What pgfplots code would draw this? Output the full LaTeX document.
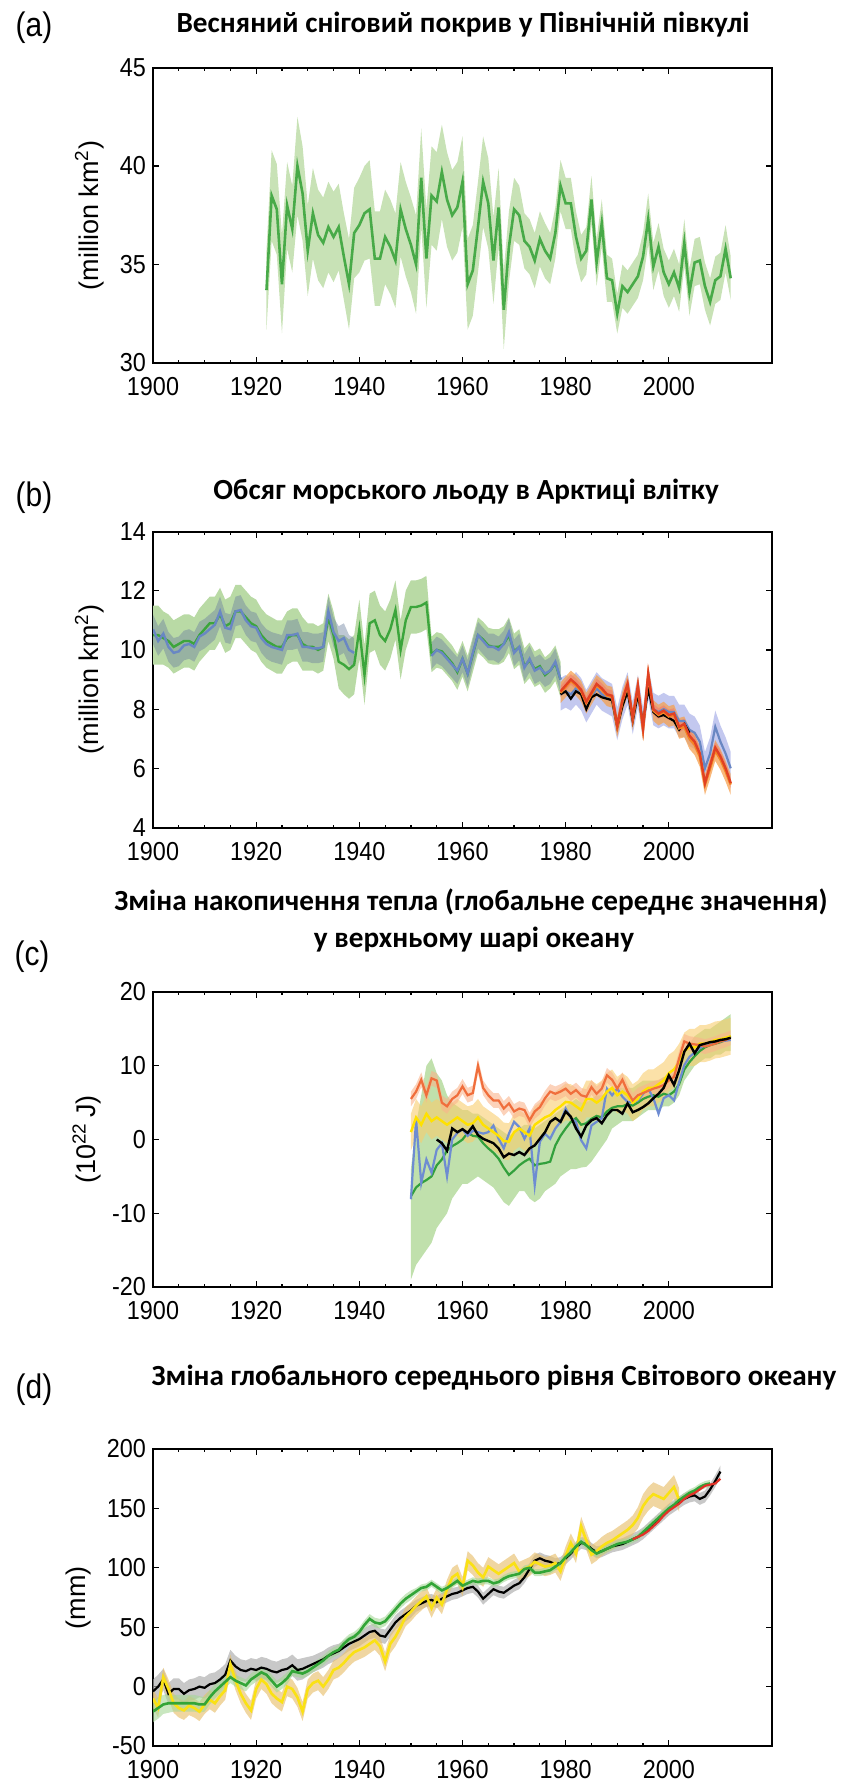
\documentclass[border=0pt]{standalone}
\usepackage{graphicx}
\usepackage{fontspec}
\setmainfont{Liberation Sans}
\newfontfamily\titlefont{Carlito}
\usepackage{pgfplots}
\pgfplotsset{compat=1.18}
\usepackage{pgfplotstable}
\usepgfplotslibrary{fillbetween}

\definecolor{aLine}{RGB}{72,170,72}
\definecolor{aBand}{RGB}{200,226,182}
\definecolor{bGreen}{RGB}{60,165,60}
\definecolor{bGreenBand}{RGB}{185,218,165}
\definecolor{bBlue}{RGB}{105,135,195}
\definecolor{bBlueBand}{RGB}{110,130,160}
\definecolor{bLav}{RGB}{180,186,235}
\definecolor{bOrBand}{RGB}{245,160,80}
\definecolor{bRedBand}{RGB}{240,130,110}
\definecolor{bRed}{RGB}{225,65,35}
\definecolor{bOrange}{RGB}{245,135,35}
\definecolor{cRed}{RGB}{240,110,60}
\definecolor{cYel}{RGB}{255,225,0}
\definecolor{cBlue}{RGB}{110,140,210}
\definecolor{cGreen}{RGB}{50,160,60}
\definecolor{cGreenBand}{RGB}{192,224,172}
\definecolor{cYelBand}{RGB}{248,205,110}
\definecolor{cRedBand}{RGB}{250,180,140}
\definecolor{dGrey}{RGB}{170,170,170}
\definecolor{dOrBand}{RGB}{232,192,110}
\definecolor{dGreenBand}{RGB}{165,215,150}
\definecolor{dYel}{RGB}{250,225,20}
\definecolor{dGreen}{RGB}{50,165,55}
\definecolor{dRed}{RGB}{225,50,40}

\pgfplotstableread{
yr y e
1922 33.7 2.0
1923 38.5 2.3
1924 37.8 2.3
1925 34.0 2.5
1926 38.0 2.2
1927 36.8 2.2
1928 40.0 2.5
1929 38.6 2.4
1930 35.7 2.3
1931 37.6 2.3
1932 36.5 2.3
1933 36.1 2.3
1934 36.9 2.3
1935 36.4 2.3
1936 36.9 2.2
1937 35.4 2.2
1938 34.0 2.3
1939 36.6 2.3
1940 37.0 2.4
1941 37.6 2.4
1942 37.8 2.5
1943 35.3 2.4
1944 35.3 2.4
1945 36.4 2.4
1946 35.9 2.4
1947 35.2 2.4
1948 37.8 2.4
1949 36.8 2.4
1950 36.0 2.4
1951 35.0 2.5
1952 39.4 2.5
1953 35.3 2.5
1954 38.5 2.5
1955 38.2 2.5
1956 39.7 2.4
1957 38.3 2.4
1958 37.5 2.3
1959 37.9 2.3
1960 39.2 2.3
1961 34.0 2.3
1962 34.7 2.3
1963 36.9 2.3
1964 39.2 2.3
1965 38.1 2.3
1966 35.2 2.2
1967 37.9 2.0
1968 32.7 2.0
1969 35.9 1.8
1970 37.8 1.6
1971 37.5 1.5
1972 36.2 1.4
1973 35.9 1.4
1974 35.2 1.4
1975 36.3 1.4
1976 35.7 1.4
1977 35.3 1.3
1978 36.6 1.3
1979 39.0 1.3
1980 38.1 1.3
1981 38.1 1.3
1982 36.4 1.3
1983 35.3 1.2
1984 35.7 1.2
1985 38.3 1.2
1986 35.1 1.2
1987 37.1 1.2
1988 34.3 1.2
1989 34.2 1.1
1990 32.5 1.0
1991 33.9 1.1
1992 33.6 1.1
1993 34.0 1.1
1994 34.4 1.1
1995 35.4 1.2
1996 37.3 1.3
1997 34.9 1.2
1998 35.9 1.2
1999 34.6 1.2
2000 34.0 1.2
2001 34.6 1.2
2002 33.8 1.2
2003 36.1 1.2
2004 33.6 1.2
2005 35.1 1.2
2006 35.2 1.2
2007 33.9 1.2
2008 33.1 1.2
2009 34.2 1.2
2010 34.4 1.2
2011 35.8 1.2
2012 34.3 1.1
}\tA

\pgfplotstableread{
yr y e
1900 10.5 1.0
1901 10.5 1.0
1902 10.4 0.9
1903 10.3 0.9
1904 10.1 0.9
1905 10.2 0.9
1906 10.3 0.9
1907 10.3 0.9
1908 10.2 0.9
1909 10.5 0.9
1910 10.7 0.9
1911 10.9 0.9
1912 10.9 0.9
1913 11.2 0.9
1914 10.8 0.9
1915 10.9 0.9
1916 11.3 0.9
1917 11.3 0.9
1918 11.1 0.9
1919 10.9 0.9
1920 10.8 0.9
1921 10.5 0.9
1922 10.3 0.9
1923 10.2 0.9
1924 10.1 0.9
1925 10.1 0.9
1926 10.4 0.9
1927 10.5 0.9
1928 10.5 0.9
1929 10.2 0.9
1930 10.1 0.8
1931 10.1 0.8
1932 10.0 0.8
1933 10.1 0.8
1934 11.1 0.8
1935 10.5 0.8
1936 9.6 0.9
1937 9.5 1.0
1938 9.35 1.0
1939 9.5 1.0
1940 10.7 1.0
1941 9.15 1.0
1942 10.9 1.0
1943 11.0 1.0
1944 10.5 1.0
1945 10.3 1.0
1946 10.7 1.0
1947 11.35 1.0
1948 10.0 1.0
1949 11.0 1.0
1950 11.45 0.9
1951 11.45 0.9
1952 11.5 0.9
1953 11.6 0.9
1954 9.85 0.6
1955 10.0 0.6
1956 9.95 0.6
1957 9.75 0.6
1958 9.55 0.6
1959 9.25 0.6
1960 9.7 0.6
1961 9.2 0.6
1962 9.85 0.6
1963 10.5 0.6
1964 10.35 0.6
1965 10.15 0.6
1966 10.1 0.6
1967 10.1 0.6
1968 10.2 0.6
1969 10.5 0.6
1970 9.95 0.6
1971 10.1 0.6
1972 9.45 0.6
1973 9.65 0.6
1974 9.35 0.6
1975 9.45 0.6
1976 9.15 0.6
1977 9.3 0.6
1978 9.55 0.6
1979 9.0 0.6
}\tBg

\pgfplotstableread{
yr y e
1900 10.7 0.5
1901 10.3 0.5
1902 10.55 0.5
1903 10.1 0.5
1904 9.9 0.5
1905 9.95 0.5
1906 10.15 0.5
1907 10.2 0.5
1908 10.1 0.5
1909 10.45 0.5
1910 10.55 0.5
1911 10.7 0.5
1912 10.85 0.5
1913 11.3 0.5
1914 10.75 0.5
1915 10.7 0.5
1916 11.3 0.5
1917 11.35 0.5
1918 11.0 0.5
1919 10.8 0.5
1920 10.75 0.5
1921 10.4 0.5
1922 10.2 0.5
1923 10.1 0.5
1924 10.05 0.5
1925 10.0 0.5
1926 10.5 0.5
1927 10.5 0.5
1928 10.55 0.5
1929 10.1 0.5
1930 10.1 0.5
1931 10.05 0.5
1932 10.05 0.5
1933 10.1 0.5
1934 11.3 0.5
1935 10.6 0.5
1936 10.3 0.5
1937 10.4 0.5
1938 10.0 0.5
1939 9.9 0.5
}\tBbA

\pgfplotstableread{
yr y e
1954 9.8 0.45
1955 10.0 0.45
1956 9.9 0.45
1957 9.7 0.45
1958 9.5 0.45
1959 9.3 0.45
1960 9.7 0.45
1961 9.2 0.45
1962 9.9 0.45
1963 10.5 0.45
1964 10.3 0.45
1965 10.1 0.45
1966 10.1 0.45
1967 10.0 0.45
1968 10.2 0.45
1969 10.6 0.45
1970 9.9 0.45
1971 10.1 0.45
1972 9.4 0.45
1973 9.7 0.45
1974 9.3 0.45
1975 9.4 0.45
1976 9.2 0.45
1977 9.3 0.45
1978 9.6 0.45
1979 9.0 0.45
}\tBbB

\pgfplotstableread{
yr b o r
1979 8.5 8.55 8.6
1980 8.6 8.75 8.8
1981 8.5 8.95 9.0
1982 8.7 8.8 8.85
1983 8.5 8.6 8.65
1984 8.1 8.2 8.25
1985 8.4 8.5 8.55
1986 8.7 8.8 8.85
1987 8.5 8.65 8.7
1988 8.4 8.45 8.5
1989 8.3 8.4 8.45
1990 7.5 7.4 7.45
1991 8.2 8.25 8.3
1992 8.7 8.8 8.85
1993 7.7 7.65 7.7
1994 8.6 8.75 8.8
1995 7.5 7.3 7.35
1996 8.9 9.15 9.2
1997 8.0 7.95 8.0
1998 7.9 7.8 7.85
1999 8.0 7.9 7.95
2000 7.9 7.75 7.8
2001 7.9 7.8 7.85
2002 7.6 7.35 7.4
2003 7.6 7.4 7.5
2004 7.3 7.0 7.1
2005 7.2 6.8 6.9
2006 6.9 6.4 6.5
2007 6.0 5.45 5.5
2008 6.5 6.0 6.1
2009 7.4 6.6 6.7
2010 6.9 6.3 6.4
2011 6.5 5.9 6.0
2012 6.0 5.45 5.5
}\tBm

\pgfplotstableread{
yr k
1979 8.5
1980 8.6
1981 8.35
1982 8.6
1983 8.5
1984 8.0
1985 8.4
1986 8.5
1987 8.4
1988 8.35
1989 8.3
1990 7.4
1991 8.1
1992 8.6
1993 7.6
1994 8.5
1995 7.5
1996 8.7
1997 7.9
1998 7.75
1999 7.8
2000 7.7
2001 7.6
2002 7.3
2003 7.5
2004 7.2
}\tBk

\pgfplotstableread{
yr r yl b g glo gup
1950 5.5 1.0 -8.1 -7.7 -19 -4
1951 6.5 3.0 2.7 -6.5 -17 2
1952 8.1 2.0 -5.9 -5.9 -16 6
1953 6.0 3.5 -2.7 -5.5 -15 10
1954 8.3 2.5 -4.5 -5.0 -14 11
1955 8.0 3.0 -1.4 -3.5 -12 9
1956 5.0 2.5 -0.5 -2.7 -11 8
1957 4.5 2.0 -5.0 -1.5 -10 6
1958 5.5 2.5 0.0 -0.9 -8 5
1959 6.0 3.0 0.9 -0.5 -7 4.5
1960 7.2 2.5 1.4 0.0 -6 4
1961 6.0 2.0 0.5 0.9 -6 4
1962 6.3 2.2 1.2 0.5 -5.5 3.5
1963 10.0 3.0 1.0 0.4 -5 3.5
1964 7.0 2.0 0.8 -0.5 -5.5 3
1965 6.0 1.5 1.0 -1.2 -6 2.5
1966 5.3 1.0 1.9 -1.8 -6.5 2
1967 5.3 0.5 0.1 -2.6 -7.5 1.5
1968 4.2 -0.2 -1.2 -3.8 -8.5 1
1969 4.9 -0.3 0.8 -4.8 -9 0.5
1970 3.8 1.0 2.4 -4.2 -8 1
1971 4.2 1.5 1.7 -3.5 -7 1.5
1972 4.0 1.0 0.1 -3.0 -7 2
1973 2.6 0.5 1.5 -2.6 -8 2
1974 3.8 2.0 -6.2 -3.5 -8.5 1.5
1975 4.4 2.5 -0.3 -3.3 -8 2
1976 5.6 3.0 0.8 -3.2 -7 2.5
1977 6.5 3.3 0.1 -3.0 -6.5 3
1978 6.2 4.0 1.5 -0.8 -6 3.5
1979 6.5 4.5 2.4 0.5 -5 4
1980 6.9 5.1 4.2 1.5 -4.5 4.5
1981 6.2 5.0 2.9 2.4 -4 5
1982 6.7 4.5 2.4 2.9 -4 5.5
1983 6.0 4.0 -0.1 2.0 -3.8 5
1984 5.8 5.5 -1.2 2.2 -3.7 5
1985 7.1 5.5 1.9 2.8 -3 5.5
1986 6.2 5.0 2.4 3.2 -2 6
1987 6.9 5.5 2.9 3.0 -1 6
1988 8.7 6.5 6.9 3.8 0 6.5
1989 8.1 7.0 6.0 4.3 1.5 7
1990 6.9 6.0 6.9 4.5 2 7
1991 8.1 6.5 5.8 4.5 2.5 7
1992 6.5 6.0 5.1 4.8 2.5 7
1993 5.3 5.0 5.1 4.6 2.5 7
1994 6.0 5.5 5.3 5.0 3 7.5
1995 6.3 6.5 6.2 5.5 3.5 8
1996 6.6 7.0 6.9 5.8 4 8
1997 6.9 7.0 5.6 6.0 4 8
1998 7.1 7.5 3.5 5.8 4 8
1999 7.4 8.0 5.6 6.2 4.5 8.5
2000 8.0 9.0 6.0 6.0 4.5 8.5
2001 8.5 9.5 5.3 6.5 5 9
2002 11.0 10.5 7.8 7.5 6 10
2003 13.3 12.0 10.1 9.5 8 12
2004 13.0 12.5 11.2 10.5 9 13
2005 12.9 12.5 11.8 11.3 10 14
2006 12.8 13.0 12.4 12.0 10.5 14.5
2007 12.6 13.0 12.8 12.5 11 15
2008 12.8 13.2 13.0 12.8 11 15
2009 13.0 13.5 13.2 13.0 11.5 15.5
2010 13.3 13.6 13.3 13.2 11.5 16
2011 13.5 13.8 13.4 13.5 12 16.5
2012 13.8 14.0 13.5 14.0 12 17
}\tC

\pgfplotstableread{
yr k
1955 0.0
1956 -0.5
1957 -1.5
1958 1.5
1959 1.0
1960 1.4
1961 0.9
1962 1.8
1963 0.6
1964 0.1
1965 -0.2
1966 -0.5
1967 -1.2
1968 -2.4
1969 -1.9
1970 -2.1
1971 -1.7
1972 -2.1
1973 -1.2
1974 -0.8
1975 0.1
1976 1.0
1977 2.4
1978 2.9
1979 2.4
1980 3.8
1981 3.1
1982 1.5
1983 0.4
1984 1.9
1985 2.6
1986 2.9
1987 2.2
1988 3.3
1989 4.0
1990 4.0
1991 3.5
1992 4.9
1993 3.7
1994 4.0
1995 4.4
1996 4.9
1997 5.6
1998 6.2
1999 7.0
2000 8.7
2001 7.4
2002 9.4
2003 11.9
2004 13.0
2005 11.7
2006 12.8
2007 13.0
2008 13.2
2009 13.3
2010 13.5
2011 13.6
2012 13.8
}\tCk

\pgfplotstableread{
yr y e
1900 -21 9
1901 -18 9
1902 -15 8
1903 -14 8
1904 -14 7
1905 -14 7
1906 -14 7
1907 -14 7
1908 -14 7
1909 -15 7
1910 -15 6
1911 -9 6
1912 -4 6
1913 0 6
1914 4 5
1915 8 5
1916 5 5
1917 3 5
1918 1 5
1919 6 5
1920 9 5
1921 12 5
1922 10 5
1923 5 5
1924 0 5
1925 3 5
1926 7 5
1927 13 4
1928 12 4
1929 11 4
1930 13 4
1931 16 4
1932 19 4
1933 22 4
1934 26 4
1935 29 4
1936 31 4
1937 36 4
1938 40 4
1939 42 4
1940 46 4
1941 52 4
1942 57 4
1943 54 4
1944 53 4
1945 55 4
1946 60 4
1947 65 4
1948 70 4
1949 74 4
1950 77 4
1951 80 3
1952 83 3
1953 84 3
1954 87 3
1955 84 3
1956 81 3
1957 83 3
1958 86 3
1959 89 3
1960 85 3
1961 87 3
1962 89 3
1963 88 3
1964 89 3
1965 89 3
1966 87 3
1967 88 3
1968 91 3
1969 93 3
1970 94 3
1971 95 3
1972 99 3
1973 100 3
1974 96 3
1975 96 3
1976 97 3
1977 98 3
1978 101 3
1979 104 3
1980 109 3
1981 113 3
1982 118 3
1983 122 3
1984 119 3
1985 115 3
1986 112 3
1987 114 3
1988 116 3
1989 118 3
1990 120 3
1991 121 3
1992 122 3
1993 124 3
1994 126 3
1995 130 3
1996 134 3
1997 138 3
1998 142 3
1999 146 3
2000 150 3
2001 153 3
2002 157 3
2003 160 3
2004 163 3
2005 165 3
2006 168 3
2007 170 3
2008 171 3
}\tDg

\pgfplotstableread{
yr y e
1900 -4 10
1901 0 10
1902 6 9
1903 -6 9
1904 -2 9
1905 -2 9
1906 -6 9
1907 -3 9
1908 -2 9
1909 0 9
1910 -1 9
1911 2 9
1912 3 9
1913 6 9
1914 10 9
1915 22 9
1916 17 9
1917 14 9
1918 13 9
1919 15 9
1920 14 9
1921 16 9
1922 15 9
1923 13 9
1924 12 9
1925 14 9
1926 15 9
1927 18 9
1928 14 9
1929 15 9
1930 17 8
1931 19 7
1932 21 7
1933 23 7
1934 26 7
1935 28 7
1936 30 6
1937 33 6
1938 36 6
1939 38 6
1940 40 6
1941 43 6
1942 46 6
1943 47 6
1944 43 6
1945 42 6
1946 48 6
1947 54 6
1948 58 6
1949 61 6
1950 64 6
1951 68 5
1952 70 5
1953 72 5
1954 73 5
1955 71 5
1956 74 5
1957 76 5
1958 78 5
1959 79 5
1960 81 5
1961 83 5
1962 84 5
1963 80 5
1964 74 5
1965 78 5
1966 82 5
1967 80 5
1968 79 5
1969 82 5
1970 85 5
1971 87 5
1972 92 5
1973 99 5
1974 106 5
1975 108 5
1976 106 5
1977 105 5
1978 103 5
1979 104 5
1980 108 5
1981 112 5
1982 117 5
1983 121 5
1984 120 5
1985 116 5
1986 113 5
1987 114 5
1988 116 5
1989 118 5
1990 119 5
1991 120 5
1992 122 5
1993 124 5
1994 126 5
1995 129 5
1996 133 5
1997 137 5
1998 141 5
1999 145 5
2000 149 5
2001 152 5
2002 155 5
2003 158 5
2004 160 5
2005 161 5
2006 158 5
2007 160 5
2008 166 5
2009 173 5
2010 181 5
}\tDk

\pgfplotstableread{
yr y e
1900 -10 8
1901 -18 8
1902 8 8
1903 -2 8
1904 -14 8
1905 -18 8
1906 -20 8
1907 -16 8
1908 -18 8
1909 -21 8
1910 -15 8
1911 -11 8
1912 -14 8
1913 -8 8
1914 -3 8
1915 19 8
1916 5 8
1917 -6 8
1918 -14 8
1919 -20 8
1920 -2 8
1921 6 8
1922 2 8
1923 -6 8
1924 -10 8
1925 -13 8
1926 0 8
1927 -2 8
1928 -9 8
1929 -21 8
1930 -2 8
1931 3 8
1932 5 8
1933 0 8
1934 6 8
1935 14 8
1936 16 8
1937 20 8
1938 25 8
1939 29 8
1940 31 8
1941 33 8
1942 36 8
1943 39 8
1944 34 8
1945 21 8
1946 36 8
1947 42 8
1948 50 8
1949 59 8
1950 63 8
1951 68 8
1952 72 8
1953 76 8
1954 66 8
1955 75 8
1956 69 8
1957 82 8
1958 92 8
1959 95 8
1960 84 8
1961 106 8
1962 102 8
1963 96 8
1964 92 8
1965 101 8
1966 98 8
1967 95 8
1968 98 8
1969 101 8
1970 104 8
1971 97 8
1972 99 8
1973 101 8
1974 105 8
1975 103 8
1976 101 8
1977 102 8
1978 104 8
1979 97 8
1980 110 8
1981 121 8
1982 112 8
1983 135 8
1984 123 8
1985 111 8
1986 114 8
1987 118 8
1988 121 8
1989 123 8
1990 126 8
1991 129 8
1992 132 8
1993 136 8
1994 142 9
1995 152 10
1996 158 10
1997 162 10
1998 160 10
1999 158 10
2000 163 10
2001 168 10
2002 157 10
}\tDy

\pgfplotstableread{
yr y
1993 124
1994 126
1995 128
1996 131
1997 135
1998 139
1999 144
2000 148
2001 151
2002 154
2003 158
2004 161
2005 163
2006 166
2007 169
2008 170
2009 171
2010 175
}\tDr

\pgfplotsset{
  panel/.style={
    scale only axis, width=309.5pt,
    xmin=1900, xmax=2020,
    xtick={1900,1920,...,2000},
    minor x tick num=3,
    tick align=inside,
    major tick length=3pt, minor tick length=1.5pt,
    axis line style={line width=1pt},
    tick style={black, line width=0.6pt},
    tick label style={font=\fontsize{13}{15}\selectfont},
    xticklabel={\scalebox{0.9}[1]{\pgfmathprintnumber[1000 sep={},assume math mode=true]{\tick}}},
    yticklabel={\scalebox{0.9}[1]{\pgfmathprintnumber[1000 sep={},assume math mode=true]{\tick}}},
    xticklabel style={inner ysep=0.5pt, yshift=-6.5pt},
    yticklabel style={inner ysep=0.5pt},
    ylabel style={font=\fontsize{13.5}{15}\selectfont, anchor=center},
    clip=true,
  },
  ylab/.style={ylabel style={at={(axis description cs:#1,0.5)}}},
  bandsty/.style={draw=none, forget plot},
}

\newcommand{\myband}[4]{%
  \addplot[bandsty, name path=#1U] table[x=yr, y expr=\thisrow{y}+\thisrow{e}] {#2};
  \addplot[bandsty, name path=#1L] table[x=yr, y expr=\thisrow{y}-\thisrow{e}] {#2};
  \addplot[fill=#3, fill opacity=#4, draw=none] fill between[of=#1U and #1L];
}

\newcommand{\ttl}{\titlefont\bfseries\fontsize{14.6}{17}\selectfont}

\begin{document}
\begin{tikzpicture}
\path (0,0) rectangle (422.5pt,-891pt);

% ---------- (a)
\node[font=\fontsize{17}{20}\selectfont] at (17pt,-14pt) {\scalebox{0.88}[1]{(a)}};
\node[font=\ttl] at (231.5pt,-12.5pt) {Весняний сніговий покрив у Північній півкулі};
\begin{axis}[panel, at={(76.5pt,-181.5pt)}, anchor=south west, height=147.75pt,
  ymin=30, ymax=45, ytick={30,35,40,45}, ylab=-0.1026,
  ylabel={(million km\textsuperscript{2})}]
\myband{a}{\tA}{aBand}{1}
\addplot[aLine, line width=1.3pt] table[x=yr, y=y] {\tA};
\end{axis}

% ---------- (b)
\node[font=\fontsize{17}{20}\selectfont] at (17pt,-249pt) {\scalebox{0.88}[1]{(b)}};
\node[font=\ttl] at (233pt,-246pt) {Обсяг морського льоду в Арктиці влітку};
\begin{axis}[panel, at={(76.5pt,-413.75pt)}, anchor=south west, height=148pt,
  ymin=4, ymax=14, ytick={4,6,...,14}, ylab=-0.1026,
  ylabel={(million km\textsuperscript{2})}]
\myband{g}{\tBg}{bGreenBand}{1}
\myband{p}{\tBbA}{bBlueBand}{0.45}
\myband{q}{\tBbB}{bBlueBand}{0.45}
\addplot[bandsty, name path=lavU] table[x=yr, y expr=\thisrow{b}+0.55] {\tBm};
\addplot[bandsty, name path=lavL] table[x=yr, y expr=\thisrow{b}-0.55] {\tBm};
\addplot[fill=bLav, fill opacity=0.8, draw=none] fill between[of=lavU and lavL];
\addplot[bandsty, name path=orU] table[x=yr, y expr=\thisrow{o}+0.35] {\tBm};
\addplot[bandsty, name path=orL] table[x=yr, y expr=\thisrow{o}-0.35] {\tBm};
\addplot[fill=bOrBand, fill opacity=0.75, draw=none] fill between[of=orU and orL];
\addplot[bandsty, name path=rdU] table[x=yr, y expr=\thisrow{r}+0.18] {\tBm};
\addplot[bandsty, name path=rdL] table[x=yr, y expr=\thisrow{r}-0.18] {\tBm};
\addplot[fill=bRedBand, fill opacity=0.7, draw=none] fill between[of=rdU and rdL];
\addplot[bGreen, line width=1.2pt] table[x=yr, y=y] {\tBg};
\addplot[bBlue, line width=1.2pt] table[x=yr, y=y] {\tBbA};
\addplot[bBlue, line width=1.2pt] table[x=yr, y=y] {\tBbB};
\addplot[bBlue, line width=1.1pt] table[x=yr, y=b] {\tBm};
\addplot[black, line width=1.1pt] table[x=yr, y=k] {\tBk};
\addplot[bOrange, line width=1.2pt] table[x=yr, y=o] {\tBm};
\addplot[bRed, line width=1.2pt] table[x=yr, y=r] {\tBm};
\end{axis}

% ---------- (c)
\node[font=\fontsize{17}{20}\selectfont] at (16pt,-478.5pt) {\scalebox{0.88}[1]{(c)}};
\node[font=\ttl] at (235.5pt,-451pt) {Зміна накопичення тепла (глобальне середнє значення)};
\node[font=\ttl] at (237pt,-470pt) {у верхньому шарі океану};
\begin{axis}[panel, at={(76.5pt,-643.5pt)}, anchor=south west, height=147.5pt,
  ymin=-20, ymax=20, ytick={-20,-10,...,20}, ylab=-0.1067,
  ylabel={(10\textsuperscript{22}\,J)}]
\addplot[bandsty, name path=cgU] table[x=yr, y=gup] {\tC};
\addplot[bandsty, name path=cgL] table[x=yr, y=glo] {\tC};
\addplot[fill=cGreenBand, draw=none] fill between[of=cgU and cgL];
\addplot[bandsty, name path=cyU] table[x=yr, y expr=\thisrow{yl}+2.5] {\tC};
\addplot[bandsty, name path=cyL] table[x=yr, y expr=\thisrow{yl}-2.5] {\tC};
\addplot[fill=cYelBand, fill opacity=0.6, draw=none] fill between[of=cyU and cyL];
\addplot[bandsty, name path=crU] table[x=yr, y expr=\thisrow{r}+1] {\tC};
\addplot[bandsty, name path=crL] table[x=yr, y expr=\thisrow{r}-1] {\tC};
\addplot[fill=cRedBand, fill opacity=0.6, draw=none] fill between[of=crU and crL];
\addplot[cGreen, line width=1.1pt] table[x=yr, y=g] {\tC};
\addplot[cBlue, line width=1.1pt] table[x=yr, y=b] {\tC};
\addplot[cYel, line width=1.2pt] table[x=yr, y=yl] {\tC};
\addplot[cRed, line width=1.1pt] table[x=yr, y=r] {\tC};
\addplot[black, line width=1.2pt] table[x=yr, y=k] {\tCk};
\end{axis}

% ---------- (d)
\node[font=\fontsize{17}{20}\selectfont] at (17pt,-695pt) {\scalebox{0.88}[1]{(d)}};
\node[font=\ttl] at (247pt,-689pt) {Зміна глобального середнього рівня Світового океану};
\begin{axis}[panel, at={(76.5pt,-873pt)}, anchor=south west, height=148.5pt,
  ymin=-50, ymax=200, ytick={-50,0,...,200}, ylab=-0.1196,
  ylabel={(mm)}]
\myband{dk}{\tDk}{dGrey}{0.65}
\myband{dy}{\tDy}{dOrBand}{0.65}
\myband{dg}{\tDg}{dGreenBand}{0.6}
\addplot[black, line width=1.1pt] table[x=yr, y=y] {\tDk};
\addplot[dYel, line width=1.3pt] table[x=yr, y=y] {\tDy};
\addplot[dGreen, line width=1.3pt] table[x=yr, y=y] {\tDg};
\addplot[dRed, line width=1.1pt] table[x=yr, y=y] {\tDr};
\end{axis}
\end{tikzpicture}
\end{document}
